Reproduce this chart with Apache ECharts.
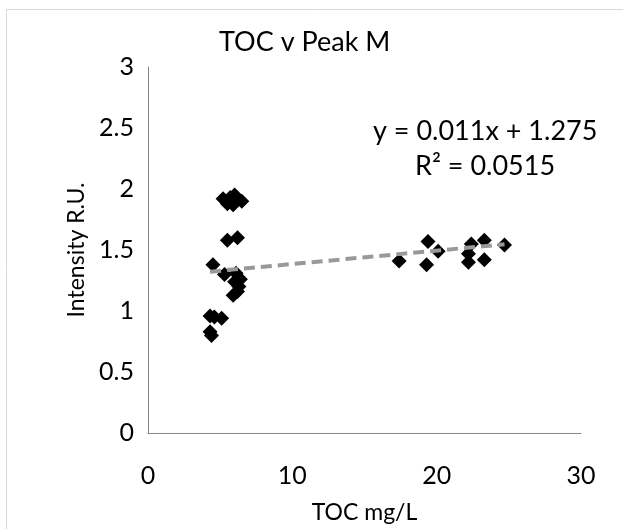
<!DOCTYPE html>
<html>
<head>
<meta charset="utf-8">
<title>TOC v Peak M</title>
<script src="https://cdn.jsdelivr.net/npm/echarts@6/dist/echarts.min.js"></script>
<style>
  html, body { margin: 0; padding: 0; background: #fff; }
  #chart { width: 623px; height: 529px; }
</style>
</head>
<body>
<div id="chart"></div>
<script>
// TOC (mg/L) 数据
const tocValues = [
  5.2, 5.7, 6.0, 5.9, 6.5, 5.5,
  5.5, 6.2,
  4.5, 5.3, 6.1, 6.0, 6.3, 6.2, 5.9, 6.4,
  4.3, 4.6, 5.1, 4.3, 4.4,
  19.4, 17.4, 19.3, 20.1, 22.4, 23.3, 22.2, 22.2, 23.3, 24.7
];
// Intensity R.U. 数据
const intensityValues = [
  1.92, 1.93, 1.95, 1.87, 1.90, 1.88,
  1.58, 1.60,
  1.38, 1.30, 1.31, 1.24, 1.20, 1.16, 1.13, 1.26,
  0.96, 0.95, 0.94, 0.83, 0.80,
  1.57, 1.41, 1.38, 1.49, 1.55, 1.58, 1.47, 1.40, 1.42, 1.54
];
// 趋势线参数
const slope = 0.011;
const intercept = 1.275;
const rSquared = 0.0515;

const xTicks = [0, 10, 20, 30];
const yTicks = [0, 0.5, 1, 1.5, 2, 2.5, 3];

const points = tocValues.map((x, i) => [x, intensityValues[i]]);
const xMin = Math.min(...tocValues);
const xMax = Math.max(...tocValues);
const trendPoints = [xMin, xMax].map(x => [x, slope * x + intercept]);

const fontFamily = 'Lato, "Open Sans", sans-serif';
const textColor = '#000';

const myChart = echarts.init(document.getElementById('chart'));

const option = {
  backgroundColor: '#fff',
  animation: false,
  title: {
    text: 'TOC v Peak M',
    left: 214,
    top: 24,
    textStyle: { fontFamily, fontSize: 27, fontWeight: 'normal', color: textColor }
  },
  grid: { left: 148, right: 42, top: 67, bottom: 89 },
  xAxis: {
    type: 'value',
    min: xTicks[0],
    max: xTicks[xTicks.length - 1],
    interval: 10,
    name: 'TOC mg/L',
    nameLocation: 'middle',
    nameGap: 68,
    nameTextStyle: { fontFamily, fontSize: 23, color: textColor },
    axisLine: { show: true, onZero: false, lineStyle: { color: '#868686', width: 1 } },
    axisTick: { show: false },
    splitLine: { show: false },
    axisLabel: { fontFamily, fontSize: 25, color: textColor, margin: 30 }
  },
  yAxis: {
    type: 'value',
    min: yTicks[0],
    max: yTicks[yTicks.length - 1],
    interval: 0.5,
    name: 'Intensity R.U.',
    nameLocation: 'middle',
    nameGap: 58,
    nameTextStyle: { fontFamily, fontSize: 23, color: textColor },
    axisLine: { show: true, lineStyle: { color: '#868686', width: 1 } },
    axisTick: { show: false },
    splitLine: { show: false },
    axisLabel: { fontFamily, fontSize: 25, color: textColor, margin: 14 }
  },
  graphic: [
    {
      type: 'rect',
      shape: { x: 6.5, y: 9.5, width: 700, height: 600 },
      style: { fill: 'none', stroke: '#d9d9d9', lineWidth: 1 },
      silent: true
    },
    {
      type: 'text',
      left: 373,
      top: 118,
      style: {
        text: 'y = ' + slope + 'x + ' + intercept,
        font: '27px ' + fontFamily,
        fill: textColor
      }
    },
    {
      type: 'text',
      left: 415,
      top: 153,
      style: {
        text: 'R² = ' + rSquared,
        font: '27px ' + fontFamily,
        fill: textColor
      }
    }
  ],
  series: [
    {
      name: 'Peak M',
      type: 'scatter',
      symbol: 'diamond',
      symbolSize: 15,
      itemStyle: { color: '#000', opacity: 1 },
      data: points,
      z: 2
    },
    {
      name: 'Linear',
      type: 'line',
      data: trendPoints,
      symbol: 'none',
      lineStyle: { color: '#999999', width: 4, type: [11, 6] },
      z: 3
    }
  ]
};

myChart.setOption(option);
</script>
</body>
</html>
